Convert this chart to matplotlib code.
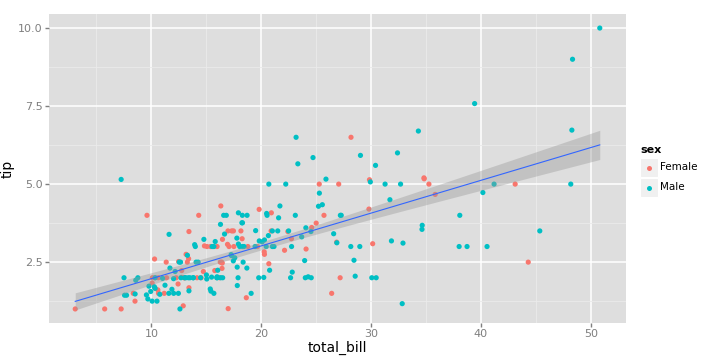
import numpy as np
import matplotlib.pyplot as plt
from matplotlib.patches import Rectangle

# tips data: total_bill, tip, sex
total_bill = [16.99, 10.34, 21.01, 23.68, 24.59, 25.29, 8.77, 26.88, 15.04, 14.78,
              10.27, 35.26, 15.42, 18.43, 14.83, 21.58, 10.33, 16.29, 16.97, 20.65,
              17.92, 20.29, 15.77, 39.42, 19.82, 17.81, 13.37, 12.69, 21.7, 19.65,
              9.55, 18.35, 15.06, 20.69, 17.78, 24.06, 16.31, 16.93, 18.69, 31.27,
              16.04, 17.46, 13.94, 9.68, 30.4, 18.29, 22.23, 32.4, 28.55, 18.04,
              12.54, 10.29, 34.81, 9.94, 25.56, 19.49, 38.01, 26.41, 11.24, 48.27,
              20.29, 13.81, 11.02, 18.29, 17.59, 20.08, 16.45, 3.07, 20.23, 15.01,
              12.02, 17.07, 26.86, 25.28, 14.73, 10.51, 17.92, 27.2, 22.76, 17.29,
              19.44, 16.66, 10.07, 32.68, 15.98, 34.83, 13.03, 18.28, 24.71, 21.16,
              28.97, 22.49, 5.75, 16.32, 22.75, 40.17, 27.28, 12.03, 21.01, 12.46,
              11.35, 15.38, 44.3, 22.42, 20.92, 15.36, 20.49, 25.21, 18.24, 14.31,
              14.0, 7.25, 38.07, 23.95, 25.71, 17.31, 29.93, 10.65, 12.43, 24.08,
              11.69, 13.42, 14.26, 15.95, 12.48, 29.8, 8.52, 14.52, 11.38, 22.82,
              19.08, 20.27, 11.17, 12.26, 18.26, 8.51, 10.33, 14.15, 16.0, 13.16,
              17.47, 34.3, 41.19, 27.05, 16.43, 8.35, 18.64, 11.87, 9.78, 7.51,
              14.07, 13.13, 17.26, 24.55, 19.77, 29.85, 48.17, 25.0, 13.39, 16.49,
              21.5, 12.66, 16.21, 13.81, 17.51, 24.52, 20.76, 31.71, 10.59, 10.63,
              50.81, 15.81, 7.25, 31.85, 16.82, 32.9, 17.89, 14.48, 9.6, 34.63,
              34.65, 23.33, 45.35, 23.17, 40.55, 20.69, 20.9, 30.46, 18.15, 23.1,
              15.69, 19.81, 28.44, 15.48, 16.58, 7.56, 10.34, 43.11, 13.0, 13.51,
              18.71, 12.74, 13.0, 16.4, 20.53, 16.47, 26.59, 38.73, 24.27, 12.76,
              30.06, 25.89, 48.33, 13.27, 28.17, 12.9, 28.15, 11.59, 7.74, 30.14,
              12.16, 13.42, 8.58, 15.98, 13.42, 16.27, 10.09, 20.45, 13.28, 22.12,
              24.01, 15.69, 11.61, 10.77, 15.53, 10.07, 12.6, 32.83, 35.83, 29.03,
              27.18, 22.67, 17.82, 18.78]
tip = [1.01, 1.66, 3.5, 3.31, 3.61, 4.71, 2.0, 3.12, 1.96, 3.23,
       1.71, 5.0, 1.57, 3.0, 3.02, 3.92, 1.67, 3.71, 3.5, 3.35,
       4.08, 2.75, 2.23, 7.58, 3.18, 2.34, 2.0, 2.0, 4.3, 3.0,
       1.45, 2.5, 3.0, 2.45, 3.27, 3.6, 2.0, 3.07, 2.31, 5.0,
       2.24, 2.54, 3.06, 1.32, 5.6, 3.0, 5.0, 6.0, 2.05, 3.0,
       2.5, 2.6, 5.2, 1.56, 4.34, 3.51, 3.0, 1.5, 1.76, 6.73,
       3.21, 2.0, 1.98, 3.76, 2.64, 3.15, 2.47, 1.0, 2.01, 2.09,
       1.97, 3.0, 3.14, 5.0, 2.2, 1.25, 3.08, 4.0, 3.0, 2.71,
       3.0, 3.4, 1.83, 5.0, 2.03, 5.17, 2.0, 4.0, 5.85, 3.0,
       3.0, 3.5, 1.0, 4.3, 3.25, 4.73, 4.0, 1.5, 3.0, 1.5,
       2.5, 3.0, 2.5, 3.48, 4.08, 1.64, 4.06, 4.29, 3.76, 4.0,
       3.0, 1.0, 4.0, 2.55, 4.0, 3.5, 5.07, 1.5, 1.8, 2.92,
       2.31, 1.68, 2.5, 2.0, 2.52, 4.2, 1.48, 2.0, 2.0, 2.18,
       1.5, 2.83, 1.5, 2.0, 3.25, 1.25, 2.0, 2.0, 2.0, 2.75,
       3.5, 6.7, 5.0, 5.0, 2.3, 1.5, 1.36, 1.63, 1.73, 2.0,
       2.5, 2.0, 2.74, 2.0, 2.0, 5.14, 5.0, 3.75, 2.61, 2.0,
       3.5, 2.5, 2.0, 2.0, 3.0, 3.48, 2.24, 4.5, 1.61, 2.0,
       10.0, 3.16, 5.15, 3.18, 4.0, 3.11, 2.0, 2.0, 4.0, 3.55,
       3.68, 5.65, 3.5, 6.5, 3.0, 5.0, 3.5, 2.0, 3.5, 4.0,
       1.5, 4.19, 2.56, 2.02, 4.0, 1.44, 2.0, 5.0, 2.0, 2.0,
       4.0, 2.01, 2.0, 2.5, 4.0, 3.23, 3.41, 3.0, 2.03, 2.23,
       2.0, 5.16, 9.0, 2.5, 6.5, 1.1, 3.0, 1.5, 1.44, 3.09,
       2.2, 3.48, 1.92, 3.0, 1.58, 2.5, 2.0, 3.0, 2.72, 2.88,
       2.0, 3.0, 3.39, 1.47, 3.0, 1.25, 1.0, 1.17, 4.67, 5.92,
       2.0, 2.0, 1.75, 3.0]
sex = list("FMMMFMMMMM" "MFMMFMFMFM" "MFFMMMMMMF" "MMFFMMMFMM"
           "MMMMMMMMMM" "MFFMMMMFMM" "MMMMMMFFMM" "MFFFFMMMMM"
           "MMFMMFMMMM" "MMFFFMMMMM" "FFFFFMMMMF" "MFMMFFMFFF"
           "MFMMFFMFFM" "MFFFFFFFMF" "FMMFFFFMMM" "MMMMMFMFFM"
           "MMFMFMMMFF" "MMMMMMMMFM" "MMMMMMFMFM" "MFMMMMMFFM"
           "MFFFMFMMMF" "MMMFFFMMMF" "MFMFMFFMMF" "MMMMMMMMFM"
           "FMMF")

levels = ["Female", "Male"]
level_codes = ["F", "M"]
colors = ["#F8766D", "#00BFC4"]

x = np.array(total_bill)
y = np.array(tip)
s = np.array(sex)

fig = plt.figure(figsize=(7.2, 3.6), dpi=100)
ax = fig.add_axes([49/720, 37/360, 577/720, 309/360])
bg = "#DEDEDE"
ax.set_facecolor(bg)
for sp in ax.spines.values():
    sp.set_visible(False)

# grid
ax.set_xticks([10, 20, 30, 40, 50])
ax.set_yticks([2.5, 5.0, 7.5, 10.0])
ax.set_yticklabels(["2.5", "5.0", "7.5", "10.0"])
ax.set_xticks([5, 15, 25, 35, 45], minor=True)
ax.set_yticks([1.25, 3.75, 6.25, 8.75], minor=True)
ax.grid(which="major", color="white", lw=1.1)
ax.grid(which="minor", color="#EBEBEB", lw=0.6)
ax.set_axisbelow(True)
ax.tick_params(which="major", color="#7F7F7F", length=3, width=1, pad=1.5,
               labelcolor="#7F7F7F", labelsize=8)
ax.tick_params(which="minor", length=0)

# points
for code, col in zip(level_codes, colors):
    m = s == code
    ax.scatter(x[m], y[m], s=14, color=col, edgecolors="none", zorder=3)

# lm fit with 95% band
n = len(x)
b1, b0 = np.polyfit(x, y, 1)
resid = y - (b0 + b1 * x)
sig = np.sqrt(np.sum(resid**2) / (n - 2))
xs = np.linspace(x.min(), x.max(), 80)
xm = x.mean()
se = sig * np.sqrt(1 / n + (xs - xm)**2 / np.sum((x - xm)**2))
tcrit = 1.9698
fit = b0 + b1 * xs
ax.fill_between(xs, fit - tcrit * se, fit + tcrit * se, color="#999999", alpha=0.4, lw=0, zorder=4)
ax.plot(xs, fit, color="#3366FF", lw=0.8, zorder=5)

xr = x.max() - x.min()
yr = y.max() - y.min()
ax.set_xlim(x.min() - 0.05 * xr, x.max() + 0.05 * xr)
ax.set_ylim(y.min() - 0.05 * yr, y.max() + 0.05 * yr)
ax.set_xlabel("total_bill", fontsize=10, labelpad=1)
ax.set_ylabel("tip", fontsize=10)
ax.yaxis.set_label_coords(-0.059, 0.5)

# legend
fig.text(640/720, 1 - 150/360, "sex", fontsize=8, fontweight="bold", va="center", ha="left")
for i, (lab, col) in enumerate(zip(levels, colors)):
    top = 158 + i * 20
    fig.patches.append(Rectangle((640/720, 1 - (top + 19)/360), 18/720, 19/360,
                                 transform=fig.transFigure, facecolor="#F0F0F0",
                                 edgecolor="white", lw=0.8))
    fig.add_artist(plt.Line2D([649/720], [1 - (top + 9.5)/360], marker="o", ms=3.6,
                              color=col, mec="none", transform=fig.transFigure))
    fig.text(660/720, 1 - (top + 9.5)/360, lab, fontsize=7.5, va="center", ha="left")

fig.savefig("out.png", dpi=100)
